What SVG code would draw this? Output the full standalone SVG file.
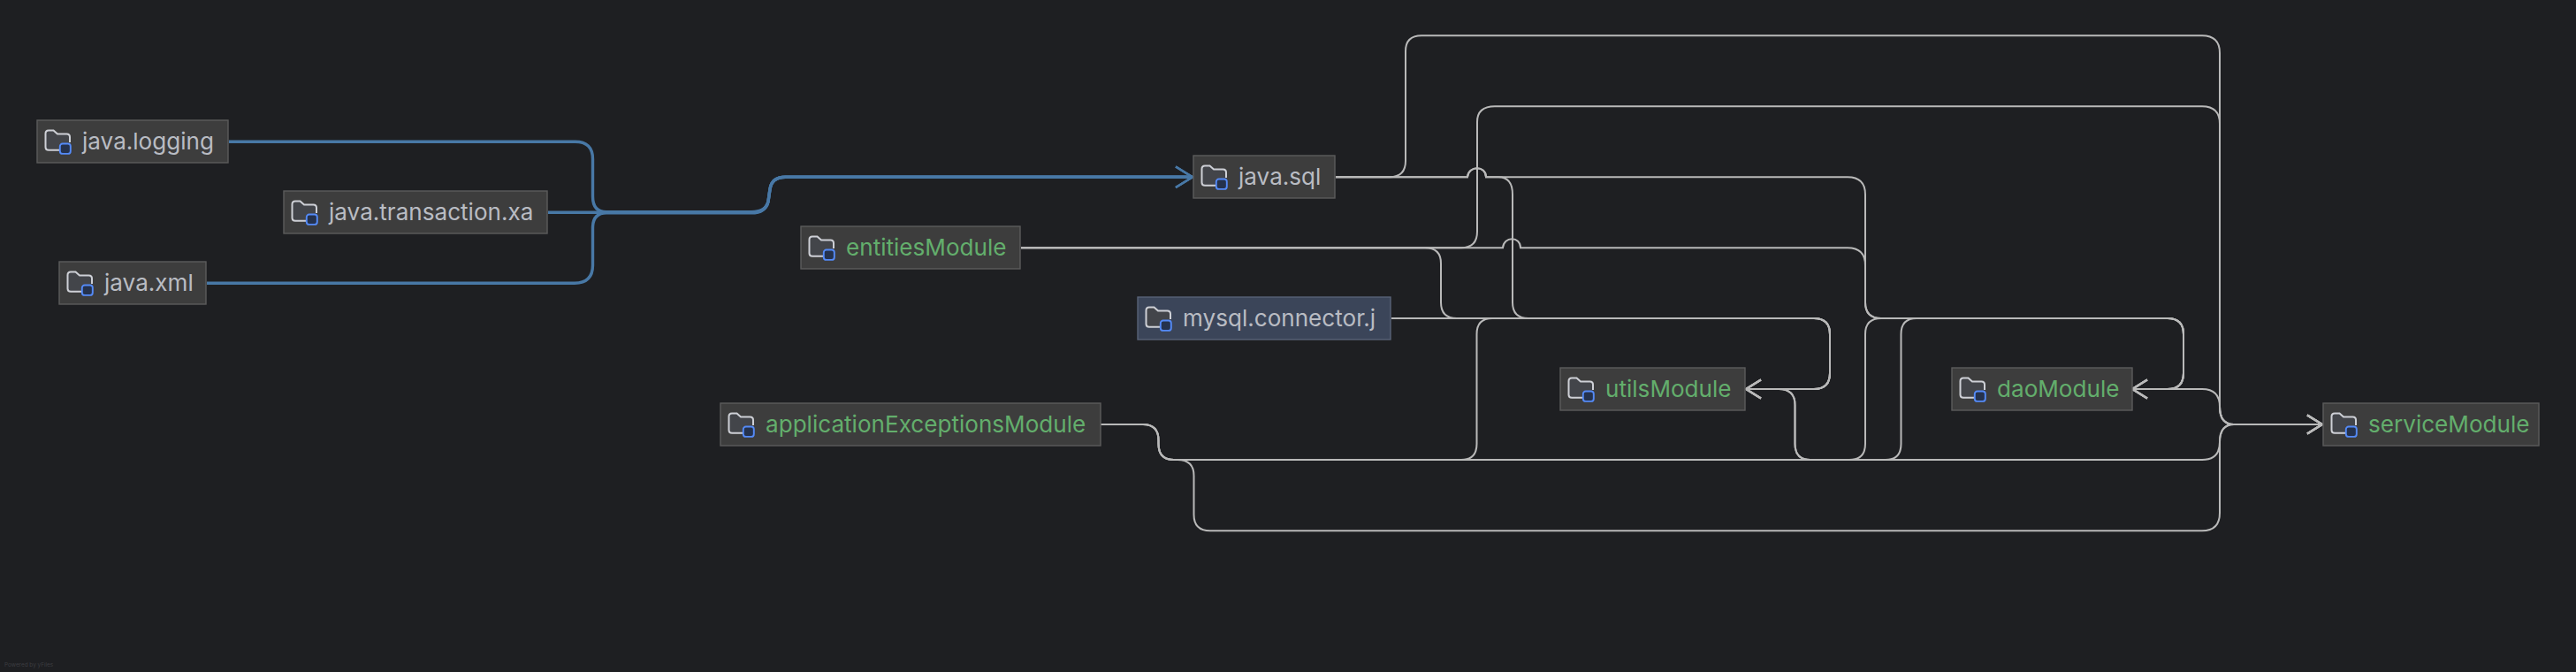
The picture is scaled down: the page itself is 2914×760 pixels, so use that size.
<svg xmlns="http://www.w3.org/2000/svg" xmlns:xlink="http://www.w3.org/1999/xlink" width="2914" height="760" viewBox="0 0 2914 760">
<style>
.n{fill:#3d3d3d;stroke:#5c5c5c;stroke-width:1.4}
.n.sel{fill:#3b4559;stroke:#596377}
text{font-family:Inter,"Noto Sans","Liberation Sans",sans-serif;font-size:26.1px}
.l{fill:#b9bcc3}
.m{fill:#63ae6c}
.e{fill:none;stroke:#b9b9b9;stroke-width:2;marker-end:url(#aw)}
.b{fill:none;stroke:#4878a6;stroke-width:3.4;marker-end:url(#ab)}
.wm{font-size:6.4px;fill:#3c3d41}
</style>
<defs>
<marker id="aw" markerUnits="userSpaceOnUse" markerWidth="24" markerHeight="30" refX="20" refY="15" orient="auto"><path d="M3,4.5 L20,15 L3,25.5" fill="none" stroke="#b9b9b9" stroke-width="2.2"/></marker>
<marker id="ab" markerUnits="userSpaceOnUse" markerWidth="26" markerHeight="32" refX="22" refY="16" orient="auto"><path d="M3,4.3 L22,16 L3,27.7" fill="none" stroke="#4878a6" stroke-width="2.4"/></marker>
<g id="ico">
<path d="M38,1 V-5 Q38,-8.5 34.5,-8.5 H24 L19.5,-12.5 H14 Q10.5,-12.5 10.5,-9 V6.5 Q10.5,9.7 14,9.7 H26" fill="#43454a" stroke="#ced0d6" stroke-width="2"/>
<rect x="26.8" y="2.5" width="12" height="11.4" rx="3" fill="#25324d" stroke="#548af7" stroke-width="1.9"/>
</g>
</defs>
<rect width="2914" height="760" fill="#1e1f22"/>
<g id="connectors">
<path class="b" d="M259,160.3 H650 Q670.5,160 670.5,180 V222 Q670.5,239.8 686,239.8 H850 Q866,239.8 869,228 L871,214 Q873,200 889,200.3 H1349"/>
<path class="b" d="M620,240.3 H850 Q866,240.3 869,228 L871,214 Q873,200 889,200.3 H1349"/>
<path class="b" d="M234,320.3 H650 Q670.5,320 670.5,300 V258 Q670.5,240.8 686,240.8 H850 Q866,240.8 869,228 L871,214 Q873,200 889,200.3 H1349"/>
<path class="e" d="M1511,200.3 H1572 Q1590,200 1590,182 V58 Q1590,40.3 1608,40.3 H2491 Q2511,40.3 2511,60 V460 Q2511,480 2527,480 H2627"/>
<path class="e" d="M1511,200.3 H1660 C1661,187 1681,187 1681,200.3 H1695 Q1711,200.3 1711,220 V342 Q1711,360 1729,360 H2052 Q2070,360 2070,378 V422 Q2070,440 2052,440 H1975"/>
<path class="e" d="M1511,200.3 H1660 C1661,187 1681,187 1681,200.3 H2090 Q2110,200.3 2110,220 V342 Q2110,360 2128,360 H2452 Q2470,360 2470,378 V422 Q2470,440 2452,440 H2412"/>
<path class="e" d="M1155,280.3 H1653 Q1671,280 1671,262 V138 Q1671,120.3 1691,120.3 H2491 Q2511,120.3 2511,140 V460 Q2511,480 2527,480 H2627"/>
<path class="e" d="M1155,280.3 H1700 C1701,267 1720,267 1720,280.3 H2090 Q2110,280.3 2110,300 V342 Q2110,360 2128,360 H2452 Q2470,360 2470,378 V422 Q2470,440 2452,440 H2412"/>
<path class="e" d="M1155,280.3 H1612 Q1630,280.3 1630,298 V342 Q1630,360 1648,360 H2052 Q2070,360 2070,378 V422 Q2070,440 2052,440 H1975"/>
<path class="e" d="M1574,360 H2052 Q2070,360 2070,378 V422 Q2070,440 2052,440 H1975"/>
<path class="e" d="M1245,480 H1293 Q1310.5,480 1310.5,498 V502 Q1310.5,520 1328,520 H1653 Q1670.5,520 1670.5,502 V378 Q1670.5,360 1688,360 H2052 Q2070,360 2070,378 V422 Q2070,440 2052,440 H1975"/>
<path class="e" d="M1245,480 H1293 Q1310.5,480 1310.5,498 V502 Q1310.5,520 1328,520 H2092 Q2110,520 2110,502 V378 Q2110,360 2128,360 H2452 Q2470,360 2470,378 V422 Q2470,440 2452,440 H2412"/>
<path class="e" d="M1245,480 H1293 Q1310.5,480 1310.5,498 V502 Q1310.5,520 1328,520 H1332 Q1350.5,520 1350.5,538 V582 Q1350.5,600.3 1369,600.3 H2491 Q2511,600.3 2511,580 V500 Q2511,480 2527,480 H2627"/>
<path class="e" d="M1975,440 H2012 Q2030.5,440 2030.5,458 V502 Q2030.5,520 2048,520 H2133 Q2150.5,520 2150.5,502 V378 Q2150.5,360 2168,360 H2452 Q2470,360 2470,378 V422 Q2470,440 2452,440 H2412"/>
<path class="e" d="M1975,440 H2012 Q2030.5,440 2030.5,458 V502 Q2030.5,520 2048,520 H2491 Q2511,520 2511,500 Q2511,480 2527,480 H2627"/>
<path class="e" d="M2412,440 H2491 Q2511,440 2511,460 Q2511,480 2527,480 H2627"/>
</g>
<g id="java.logging"><rect class="n" x="42" y="136" width="216" height="48"/><use xlink:href="#ico" href="#ico" transform="translate(41,160)"/><text class="l" x="93" y="169">java.logging</text></g>
<g id="java.transaction.xa"><rect class="n" x="321" y="216" width="298" height="48"/><use xlink:href="#ico" href="#ico" transform="translate(320,240)"/><text class="l" x="372" y="249">java.transaction.xa</text></g>
<g id="java.xml"><rect class="n" x="67" y="296" width="166" height="48"/><use xlink:href="#ico" href="#ico" transform="translate(66,320)"/><text class="l" x="118" y="329">java.xml</text></g>
<g id="java.sql"><rect class="n" x="1350" y="176" width="160" height="48"/><use xlink:href="#ico" href="#ico" transform="translate(1349,200)"/><text class="l" x="1401" y="209">java.sql</text></g>
<g id="entitiesModule"><rect class="n" x="906" y="256" width="248" height="48"/><use xlink:href="#ico" href="#ico" transform="translate(905,280)"/><text class="m" x="957" y="289">entitiesModule</text></g>
<g id="mysql.connector.j"><rect class="n sel" x="1287" y="336" width="286" height="48"/><use xlink:href="#ico" href="#ico" transform="translate(1286,360)"/><text class="l" x="1338" y="369">mysql.connector.j</text></g>
<g id="applicationExceptionsModule"><rect class="n" x="815" y="456" width="430" height="48"/><use xlink:href="#ico" href="#ico" transform="translate(814,480)"/><text class="m" x="866" y="489">applicationExceptionsModule</text></g>
<g id="utilsModule"><rect class="n" x="1765" y="416" width="209" height="48"/><use xlink:href="#ico" href="#ico" transform="translate(1764,440)"/><text class="m" x="1816" y="449">utilsModule</text></g>
<g id="daoModule"><rect class="n" x="2208" y="416" width="204" height="48"/><use xlink:href="#ico" href="#ico" transform="translate(2207,440)"/><text class="m" x="2259" y="449">daoModule</text></g>
<g id="serviceModule"><rect class="n" x="2628" y="456" width="244" height="48"/><use xlink:href="#ico" href="#ico" transform="translate(2627,480)"/><text class="m" x="2679" y="489">serviceModule</text></g>
<text class="wm" x="5" y="754">Powered by yFiles</text>
</svg>
